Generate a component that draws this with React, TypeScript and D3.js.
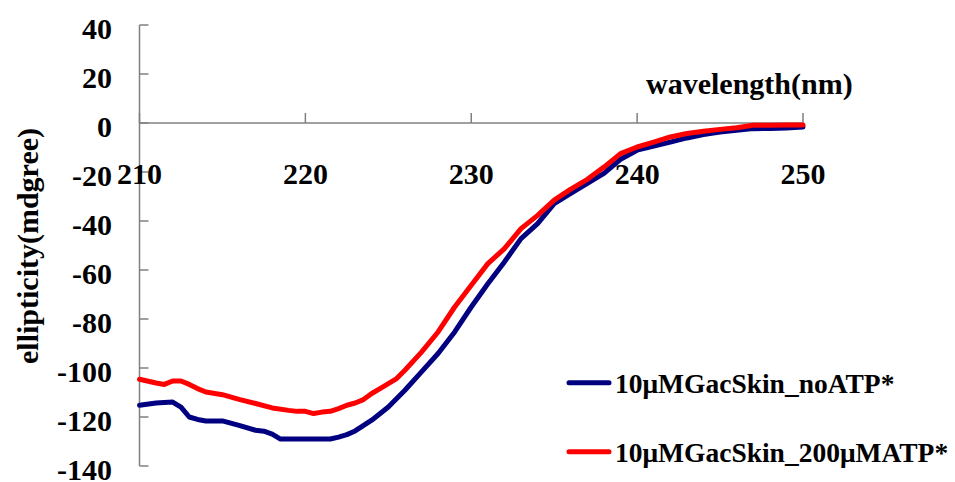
import React from "react";
import * as d3 from "d3";

// CD spectra: wavelength (nm) vs. ellipticity (mdeg)
const wavelengthNoATP = [210, 211, 212, 212.5, 213, 213.5, 214, 215, 216, 217, 217.5, 218, 218.5, 219, 220, 221, 221.5, 222, 222.5, 223, 224, 225, 226, 227, 228, 229, 230, 231, 232, 233, 234, 235, 236, 237, 238, 239, 240, 241, 242, 243, 244, 245, 246, 247, 248, 249, 250];
const ellipticityNoATP = [-115.2, -114.3, -113.9, -116, -120, -121, -121.6, -121.6, -123.4, -125.4, -125.8, -127, -129, -129, -129, -129, -129, -128.2, -127.2, -125.7, -121.3, -115.9, -109.1, -101.6, -94.1, -85.3, -75.1, -65.6, -56.7, -47.2, -41.1, -32.9, -28.7, -24.6, -20.6, -14.8, -11.1, -9.4, -7.8, -6.1, -4.7, -3.7, -3.0, -2.3, -2.2, -2.0, -1.6];

const wavelengthATP = [210, 211, 211.5, 212, 212.5, 213, 213.5, 214, 215, 216, 217, 218, 219, 219.5, 220, 220.5, 221, 221.5, 222, 222.5, 223, 223.5, 224, 224.5, 225, 225.5, 226, 227, 228, 229, 230, 231, 232, 233, 234, 235, 236, 237, 238, 239, 240, 241, 242, 243, 244, 245, 246, 247, 248, 249, 250];
const ellipticityATP = [-104.6, -106.1, -106.7, -105.3, -105.3, -106.7, -108.4, -109.8, -110.9, -112.8, -114.5, -116.3, -117.3, -117.7, -117.7, -118.6, -118, -117.7, -116.6, -115.2, -114.3, -112.9, -110.4, -108.4, -106.4, -104.3, -100.9, -93.5, -85.3, -75.1, -66.2, -57.4, -51.3, -43.1, -37.7, -31.5, -27, -23, -18, -12.5, -9.8, -7.8, -5.7, -4.3, -3.4, -2.6, -1.9, -0.9, -0.9, -0.8, -0.8];

const xTicks = [210, 220, 230, 240, 250];
const yTicks = [40, 20, 0, -20, -40, -60, -80, -100, -120, -140];

const seriesNames = ["10μMGacSkin_noATP*", "10μMGacSkin_200μMATP*"];
const seriesColors = ["#000080", "#ff0000"];

const W = 955;
const H = 482;
const FONT = "'Liberation Serif', 'Times New Roman', serif";

export default function App() {
  const x = d3.scaleLinear().domain([210, 250]).range([139.5, 803]);
  const y = d3.scaleLinear().domain([-140, 40]).range([466, 25]);

  const line = d3
    .line<[number, number]>()
    .x((d) => x(d[0]))
    .y((d) => y(d[1]));

  const series = [
    wavelengthNoATP.map((w, i) => [w, ellipticityNoATP[i]] as [number, number]),
    wavelengthATP.map((w, i) => [w, ellipticityATP[i]] as [number, number]),
  ];

  const axisColor = "#808080";
  const legendY = [382.7, 451.7];

  return (
    <svg
      width={W}
      height={H}
      viewBox={`0 0 ${W} ${H}`}
      style={{ position: "absolute", left: 0, top: 0, background: "#fff" }}
    >
      {/* y axis */}
      <line x1={x(210)} x2={x(210)} y1={y(40)} y2={y(-140)} stroke={axisColor} strokeWidth={1.5} />
      {yTicks.map((t) => (
        <g key={`y${t}`}>
          <line x1={x(210)} x2={x(210) + 9} y1={y(t)} y2={y(t)} stroke={axisColor} strokeWidth={1.5} />
          <text
            x={112}
            y={y(t) + 13.5}
            textAnchor="end"
            fontFamily={FONT}
            fontWeight="bold"
            fontSize={30}
            fill="#000"
          >
            {t}
          </text>
        </g>
      ))}

      {/* x axis at zero */}
      <line x1={x(210)} x2={x(250)} y1={y(0)} y2={y(0)} stroke={axisColor} strokeWidth={1.5} />
      {xTicks.map((t) => (
        <g key={`x${t}`}>
          <line x1={x(t)} x2={x(t)} y1={y(0)} y2={y(0) - 10} stroke={axisColor} strokeWidth={1.5} />
          <text
            x={x(t)}
            y={183.5}
            textAnchor="middle"
            fontFamily={FONT}
            fontWeight="bold"
            fontSize={30}
            fill="#000"
          >
            {t}
          </text>
        </g>
      ))}

      {/* axis titles */}
      <text x={646} y={93.5} fontFamily={FONT} fontWeight="bold" fontSize={30} fill="#000">
        wavelength(nm)
      </text>
      <text
        transform={`translate(38,246) rotate(-90)`}
        textAnchor="middle"
        fontFamily={FONT}
        fontWeight="bold"
        fontSize={30}
        fill="#000"
      >
        ellipticity(mdgree)
      </text>

      {/* spectra */}
      {series.map((s, i) => (
        <path
          key={`s${i}`}
          d={line(s) ?? ""}
          fill="none"
          stroke={seriesColors[i]}
          strokeWidth={5}
          strokeLinejoin="round"
          strokeLinecap="round"
        />
      ))}

      {/* legend */}
      {seriesNames.map((name, i) => (
        <g key={`l${i}`}>
          <line
            x1={569}
            x2={609}
            y1={legendY[i]}
            y2={legendY[i]}
            stroke={seriesColors[i]}
            strokeWidth={5}
            strokeLinecap="round"
          />
          <text
            x={615}
            y={legendY[i] + 10.5}
            fontFamily={FONT}
            fontWeight="bold"
            fontSize={27.5}
            fill="#000"
          >
            {name}
          </text>
        </g>
      ))}
    </svg>
  );
}
